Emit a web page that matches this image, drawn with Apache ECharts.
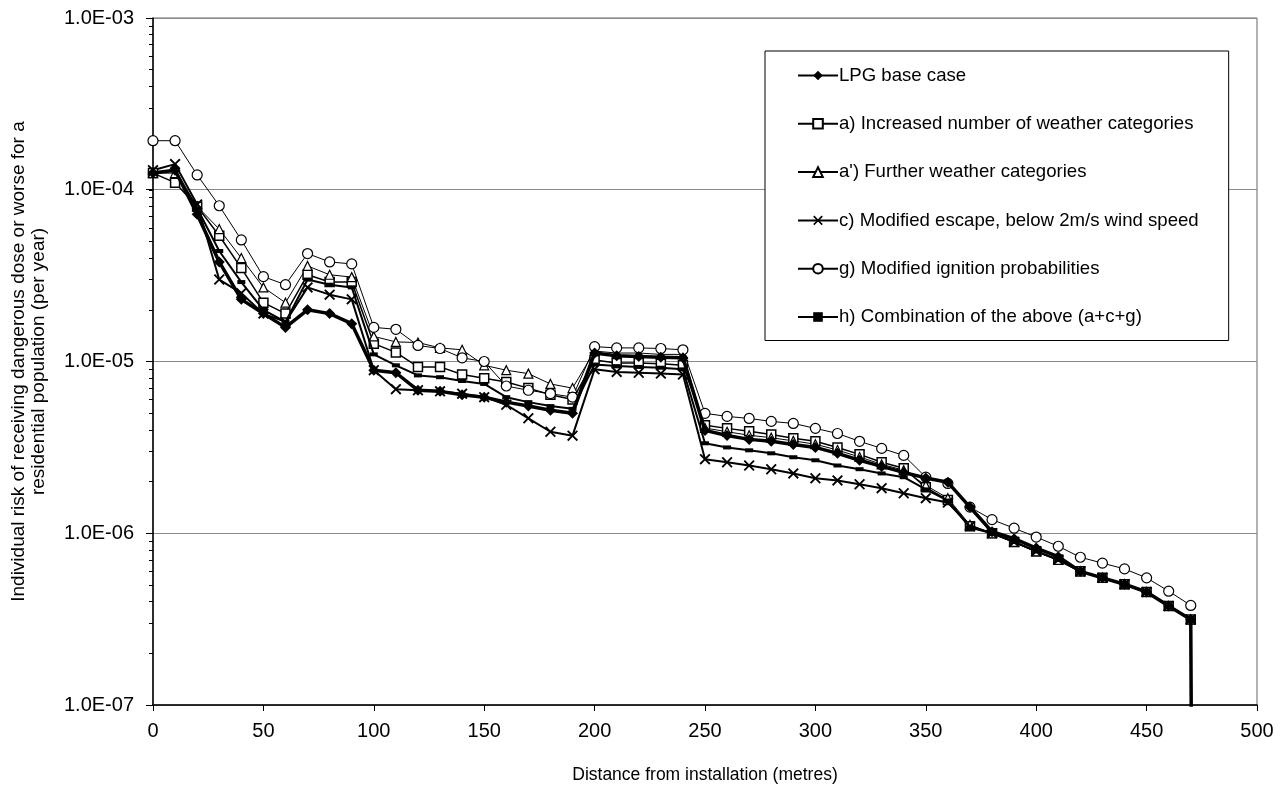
<!DOCTYPE html>
<html>
<head>
<meta charset="utf-8">
<script src="https://cdn.jsdelivr.net/npm/echarts@6/dist/echarts.min.js"></script>
<style>
  html, body { margin: 0; padding: 0; background: #fff; }
  #chart { width: 1285px; height: 789px; }
</style>
</head>
<body>
<div id="chart"></div>
<script>
// distance from installation (metres)
var distances = [0, 10, 20, 30, 40, 50, 60, 70, 80, 90,
  100, 110, 120, 130, 140, 150, 160, 170, 180, 190,
  200, 210, 220, 230, 240,
  250, 260, 270, 280, 290, 300, 310, 320, 330, 340,
  350, 360, 370, 380, 390, 400, 410, 420, 430, 440, 450, 460, 470];

var baseCase = [1.25e-4, 1.3e-4, 7.2e-5, 3.8e-5, 2.3e-5, 1.9e-5, 1.58e-5, 2.0e-5, 1.9e-5, 1.66e-5,
  8.9e-6, 8.6e-6, 6.8e-6, 6.7e-6, 6.4e-6, 6.2e-6, 5.8e-6, 5.5e-6, 5.2e-6, 5.0e-6,
  1.12e-5, 1.08e-5, 1.07e-5, 1.06e-5, 1.05e-5,
  3.97e-6, 3.71e-6, 3.52e-6, 3.43e-6, 3.29e-6, 3.16e-6, 2.92e-6, 2.66e-6, 2.45e-6, 2.26e-6,
  2.1e-6, 1.98e-6, 1.42e-6, 1.02e-6, 9.3e-7, 8.2e-7, 7.3e-7, 6.0e-7, 5.5e-7, 5.05e-7, 4.55e-7, 3.77e-7, 3.15e-7];

var moreWeather = [1.25e-4, 1.1e-4, 8.0e-5, 5.4e-5, 3.5e-5, 2.2e-5, 1.9e-5, 3.2e-5, 2.9e-5, 2.9e-5,
  1.27e-5, 1.13e-5, 9.3e-6, 9.3e-6, 8.4e-6, 8.0e-6, 7.6e-6, 7.0e-6, 6.4e-6, 6.0e-6,
  1.02e-5, 9.8e-6, 9.8e-6, 9.7e-6, 9.5e-6,
  4.25e-6, 4.08e-6, 3.92e-6, 3.76e-6, 3.57e-6, 3.43e-6, 3.16e-6, 2.88e-6, 2.59e-6, 2.39e-6,
  1.85e-6, 1.56e-6, 1.1e-6, 1.0e-6, 8.9e-7, 7.85e-7, 7.0e-7, 6.0e-7, 5.5e-7, 5.05e-7, 4.55e-7, 3.77e-7, 3.15e-7];

var furtherWeather = [1.25e-4, 1.25e-4, 8.0e-5, 5.9e-5, 4.0e-5, 2.7e-5, 2.2e-5, 3.6e-5, 3.2e-5, 3.1e-5,
  1.4e-5, 1.3e-5, 1.29e-5, 1.2e-5, 1.17e-5, 9.5e-6, 8.9e-6, 8.5e-6, 7.4e-6, 7.0e-6,
  1.15e-5, 1.12e-5, 1.12e-5, 1.1e-5, 1.1e-5,
  4.1e-6, 3.9e-6, 3.72e-6, 3.6e-6, 3.45e-6, 3.3e-6, 3.05e-6, 2.78e-6, 2.52e-6, 2.33e-6,
  1.9e-6, 1.6e-6, 1.12e-6, 1.0e-6, 8.9e-7, 7.85e-7, 7.0e-7, 6.0e-7, 5.5e-7, 5.05e-7, 4.55e-7, 3.77e-7, 3.15e-7];

var modEscape = [1.3e-4, 1.41e-4, 8.2e-5, 3.0e-5, 2.5e-5, 1.9e-5, 1.7e-5, 2.7e-5, 2.45e-5, 2.3e-5,
  8.9e-6, 6.9e-6, 6.8e-6, 6.7e-6, 6.5e-6, 6.2e-6, 5.6e-6, 4.67e-6, 3.9e-6, 3.7e-6,
  9.0e-6, 8.7e-6, 8.6e-6, 8.5e-6, 8.4e-6,
  2.7e-6, 2.59e-6, 2.48e-6, 2.36e-6, 2.23e-6, 2.09e-6, 2.03e-6, 1.93e-6, 1.83e-6, 1.71e-6,
  1.6e-6, 1.51e-6, 1.1e-6, 1.0e-6, 8.9e-7, 7.85e-7, 7.0e-7, 6.0e-7, 5.5e-7, 5.05e-7, 4.55e-7, 3.77e-7, 3.15e-7];

var modIgnition = [1.93e-4, 1.93e-4, 1.22e-4, 8.07e-5, 5.1e-5, 3.12e-5, 2.8e-5, 4.25e-5, 3.8e-5, 3.7e-5,
  1.58e-5, 1.54e-5, 1.24e-5, 1.19e-5, 1.05e-5, 1.0e-5, 7.2e-6, 6.8e-6, 6.5e-6, 6.2e-6,
  1.22e-5, 1.2e-5, 1.2e-5, 1.19e-5, 1.17e-5,
  4.99e-6, 4.79e-6, 4.66e-6, 4.48e-6, 4.36e-6, 4.08e-6, 3.81e-6, 3.43e-6, 3.12e-6, 2.84e-6,
  2.12e-6, 1.95e-6, 1.42e-6, 1.2e-6, 1.07e-6, 9.5e-7, 8.4e-7, 7.25e-7, 6.7e-7, 6.2e-7, 5.5e-7, 4.6e-7, 3.8e-7];

var combination = [1.25e-4, 1.3e-4, 7.8e-5, 4.4e-5, 2.9e-5, 2.0e-5, 1.7e-5, 3.0e-5, 2.8e-5, 2.7e-5,
  1.1e-5, 9.5e-6, 8.3e-6, 8.1e-6, 7.7e-6, 7.4e-6, 6.2e-6, 5.8e-6, 5.5e-6, 5.3e-6,
  9.6e-6, 9.4e-6, 9.3e-6, 9.2e-6, 9.0e-6,
  3.34e-6, 3.16e-6, 3.04e-6, 2.92e-6, 2.77e-6, 2.66e-6, 2.48e-6, 2.36e-6, 2.23e-6, 2.12e-6,
  1.8e-6, 1.55e-6, 1.08e-6, 1.0e-6, 8.9e-7, 7.85e-7, 7.0e-7, 6.0e-7, 5.5e-7, 5.05e-7, 4.55e-7, 3.77e-7, 3.15e-7];

// risk falls to nothing just past the last distance
var cutoffDistance = 471;
var cutoffRisk = 1e-9;

var seriesNames = ['LPG base case',
  'a) Increased number of weather categories',
  "a') Further weather categories",
  'c) Modified escape, below 2m/s wind speed',
  'g) Modified ignition probabilities',
  'h) Combination of the above (a+c+g)'];

var xTicks = [0, 50, 100, 150, 200, 250, 300, 350, 400, 450, 500];

function pairs(vals, drop) {
  var out = [];
  for (var i = 0; i < vals.length; i++) out.push([distances[i], vals[i]]);
  if (drop) out.push({ value: [cutoffDistance, cutoffRisk], symbol: 'none' });
  return out;
}

// minor ticks for the log axis (2..9 in every decade), in log10 units
var minorTicks = [];
for (var e = -7; e < -3; e++) {
  for (var k = 1; k <= 10; k++) minorTicks.push(Math.log10(k) + e);
}

var crossPath = 'path://M0,1.2L1.2,0L5,3.8L8.8,0L10,1.2L6.2,5L10,8.8L8.8,10L5,6.2L1.2,10L0,8.8L3.8,5Z';
var FONT = 'Liberation Sans';

var chart = echarts.init(document.getElementById('chart'), null, { renderer: 'canvas' });

var option = {
  animation: false,
  backgroundColor: '#ffffff',
  textStyle: { fontFamily: FONT, color: '#000' },
  grid: { left: 153, right: 28, top: 18, bottom: 83, show: true, borderColor: '#666', borderWidth: 1 },
  legend: {
    orient: 'vertical',
    left: 765,
    top: 51,
    padding: [15, 30, 14, 32],
    itemGap: 29.3,
    itemWidth: 40,
    itemHeight: 12,
    borderColor: '#000',
    borderWidth: 1,
    backgroundColor: '#fff',
    textStyle: { fontFamily: FONT, fontSize: 18.6, color: '#000', padding: [0, 0, 0, -4] },
    data: seriesNames
  },
  xAxis: {
    type: 'value',
    min: 0, max: 500, interval: 50,
    name: 'Distance from installation (metres)',
    nameLocation: 'middle',
    nameGap: 61,
    nameTextStyle: { fontFamily: FONT, fontSize: 17.5, color: '#000' },
    axisLine: { show: true, lineStyle: { color: '#000', width: 1.5 } },
    axisTick: { show: true, inside: false, length: 6, lineStyle: { color: '#000' } },
    axisLabel: { fontFamily: FONT, fontSize: 20, color: '#000', margin: 16,
      formatter: function (v) { return xTicks.indexOf(v) >= 0 ? String(v) : ''; } },
    splitLine: { show: false }
  },
  yAxis: [{
    type: 'log',
    logBase: 10,
    min: 1e-7, max: 1e-3,
    name: 'Individual risk of receiving dangerous dose or worse for a\nresidential population (per year)',
    nameLocation: 'middle',
    nameRotate: 90,
    nameGap: 104,
    nameTextStyle: { fontFamily: FONT, fontSize: 19, color: '#000', lineHeight: 20, align: 'center' },
    axisLine: { show: true, lineStyle: { color: '#000', width: 1.5 } },
    axisTick: { show: true, length: 7, lineStyle: { color: '#000' } },
    axisLabel: { fontFamily: FONT, fontSize: 20, color: '#000', margin: 19,
      formatter: function (v) {
        var ex = Math.round(Math.log10(v));
        var n = String(Math.abs(ex));
        if (n.length < 2) n = '0' + n;
        return '1.0E' + (ex < 0 ? '-' : '+') + n;
      } },
    splitLine: { show: true, lineStyle: { color: '#8a8a8a', width: 1 } }
  }, {
    type: 'value',
    min: -7, max: -3,
    position: 'left',
    axisLine: { show: false },
    axisLabel: { show: false },
    splitLine: { show: false },
    axisTick: { show: true, length: 4, customValues: minorTicks, lineStyle: { color: '#000' } }
  }],
  series: [{
    name: seriesNames[1], type: 'line', data: pairs(moreWeather),
    symbol: 'rect', symbolSize: 9, z: 3,
    lineStyle: { color: '#000', width: 1.5 },
    itemStyle: { color: '#fff', borderColor: '#000', borderWidth: 1.5 }
  }, {
    name: seriesNames[2], type: 'line', data: pairs(furtherWeather),
    symbol: 'triangle', symbolSize: 9, z: 3,
    lineStyle: { color: '#000', width: 1 },
    itemStyle: { color: '#fff', borderColor: '#000', borderWidth: 1.2 }
  }, {
    name: seriesNames[3], type: 'line', data: pairs(modEscape),
    symbol: crossPath, symbolSize: 11, z: 3,
    lineStyle: { color: '#000', width: 2 },
    itemStyle: { color: '#000' }
  }, {
    name: seriesNames[4], type: 'line', data: pairs(modIgnition),
    symbol: 'circle', symbolSize: 10, z: 3,
    lineStyle: { color: '#000', width: 1 },
    itemStyle: { color: '#fff', borderColor: '#000', borderWidth: 1.2 }
  }, {
    name: seriesNames[5], type: 'line', data: pairs(combination, true),
    symbol: 'rect', symbolSize: [8, 4], z: 4,
    lineStyle: { color: '#000', width: 2 },
    itemStyle: { color: '#000' }
  }, {
    name: seriesNames[0], type: 'line', data: pairs(baseCase, true),
    symbol: 'diamond', symbolSize: 11, z: 5,
    lineStyle: { color: '#000', width: 3.5 },
    itemStyle: { color: '#000' }
  }]
};

chart.setOption(option);
</script>
</body>
</html>
